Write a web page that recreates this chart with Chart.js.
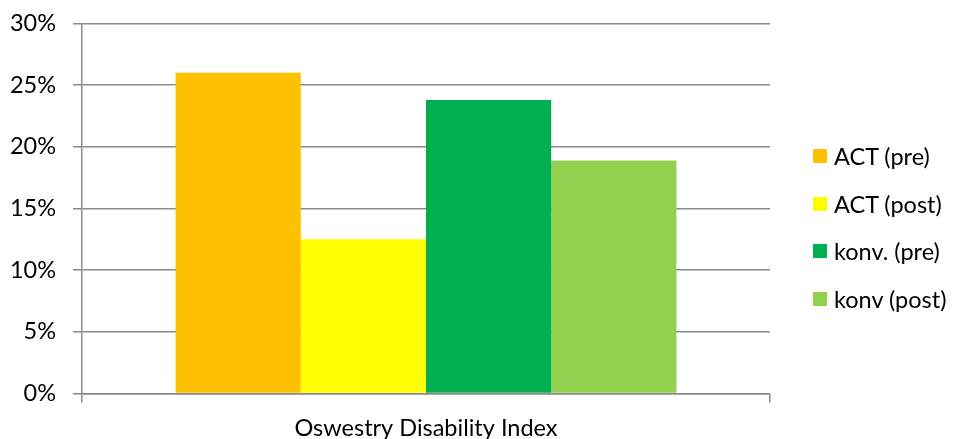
<!DOCTYPE html>
<html>
<head>
<meta charset="utf-8">
<script src="https://cdn.jsdelivr.net/npm/chart.js@4/dist/chart.umd.min.js"></script>
<style>
  html, body { margin: 0; padding: 0; background: #fff; }
  #wrap { position: relative; width: 957px; height: 439px; }
  #legend { position: absolute; left: 813px; top: 132px; font-family: Lato, "Liberation Sans", sans-serif; font-size: 23.5px; color: #000; }
  #legend div { height: 47.7px; display: flex; align-items: center; }
  #legend span.box { width: 14px; height: 14px; margin-right: 7px; }
</style>
</head>
<body>
<div id="wrap">
  <canvas id="chart" width="957" height="439"></canvas>
  <div id="legend"></div>
</div>
<script>
// categories / series
const categories = ['Oswestry Disability Index']
const seriesNames = ['ACT (pre)', 'ACT (post)', 'konv. (pre)', 'konv (post)']
const seriesValues = [[26.0], [12.5], [23.8], [18.9]]
const seriesColors = ['#FFC000', '#FFFF00', '#00B050', '#92D050']
const yTicks = [0, 5, 10, 15, 20, 25, 30]

const FONT = 'Lato, "Liberation Sans", sans-serif'
const gridGray = '#8a8a8a'

const datasets = seriesNames.map((name, i) => ({
  label: name,
  data: seriesValues[i],
  backgroundColor: seriesColors[i],
  borderWidth: 0,
  categoryPercentage: 0.728,
  barPercentage: 1.0
}))

const ctx = document.getElementById('chart').getContext('2d')
const chart = new Chart(ctx, {
  type: 'bar',
  data: { labels: categories, datasets },
  options: {
    responsive: false,
    animation: false,
    layout: { padding: { top: 23.5, right: 187, bottom: 0, left: 0 } },
    plugins: {
      legend: { display: false },
      tooltip: { enabled: false }
    },
    scales: {
      x: {
        offset: true,
        afterFit: scale => { scale.height = 45.5 },
        grid: {
          offset: true,
          drawOnChartArea: false,
          drawTicks: true,
          tickLength: 9,
          color: gridGray,
          lineWidth: 1.5
        },
        border: { color: gridGray, width: 1.5 },
        ticks: { color: '#000', font: { family: FONT, size: 23.5 }, padding: 12 }
      },
      y: {
        min: 0,
        max: 30,
        afterFit: scale => {
          scale.width = 82
          scale.paddingTop = 0
          scale.paddingBottom = 0
        },
        afterBuildTicks: scale => { scale.ticks = yTicks.map(v => ({ value: v })) },
        grid: {
          color: gridGray,
          lineWidth: 1.5,
          tickLength: 9
        },
        border: { color: gridGray, width: 1.5 },
        ticks: {
          color: '#000',
          font: { family: FONT, size: 23.5 },
          padding: 17,
          callback: v => v + '%'
        }
      }
    }
  }
})

// legend built from the datasets
const legendEl = document.getElementById('legend')
chart.data.datasets.forEach(d => {
  const row = document.createElement('div')
  row.innerHTML = `<span class="box" style="background:${d.backgroundColor}"></span><span>${d.label}</span>`
  legendEl.appendChild(row)
})
</script>
</body>
</html>
